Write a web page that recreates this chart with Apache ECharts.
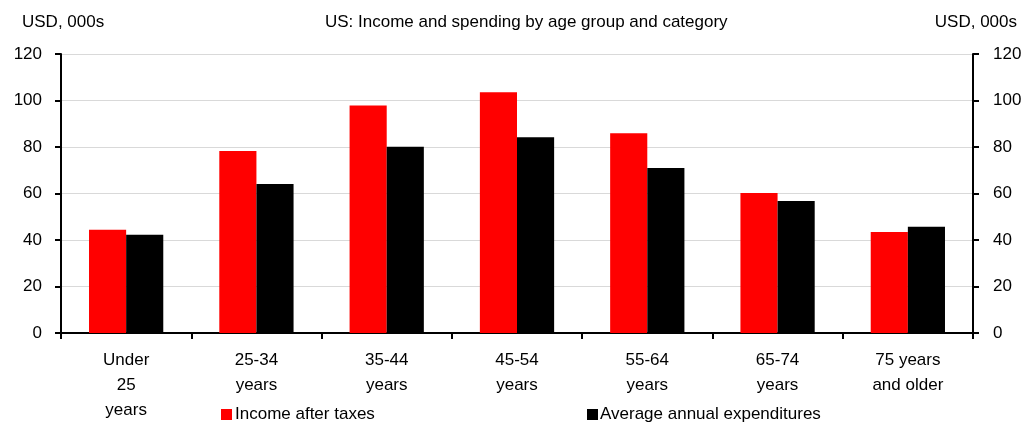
<!DOCTYPE html>
<html><head><meta charset="utf-8">
<script src="https://cdn.jsdelivr.net/npm/echarts@6/dist/echarts.min.js"></script>
<style>html,body{margin:0;padding:0;background:#fff}#c{width:1036px;height:425px}</style>
</head><body><div id="c"></div>
<script>
const categories = ['Under\n25\nyears', '25-34\nyears', '35-44\nyears', '45-54\nyears', '55-64\nyears', '65-74\nyears', '75 years\nand older'];
const incomeAfterTaxes = [44.4, 78.3, 97.8, 103.5, 85.9, 60.2, 43.4];
const avgExpenditures = [42.3, 64.1, 80.1, 84.2, 71.0, 56.8, 45.7];
const yTicks = { min: 0, max: 120, interval: 20 };

const font = 'Liberation Sans, Arial, sans-serif';
const chart = echarts.init(document.getElementById('c'));
const yAxisBase = {
  type: 'value', min: yTicks.min, max: yTicks.max, interval: yTicks.interval,
  axisLine: { show: true, lineStyle: { color: '#000', width: 2 } },
  axisTick: { show: true, length: 6, lineStyle: { color: '#000', width: 2 } },
  axisLabel: { fontFamily: font, fontSize: 17, color: '#000', margin: 19 },
};
const titleStyle = { fontFamily: font, fontSize: 17, fontWeight: 'normal', color: '#000' };
chart.setOption({
  animation: false,
  textStyle: { fontFamily: font },
  title: [
    { text: 'US: Income and spending by age group and category', left: 325, top: 14, padding: 0, textStyle: titleStyle },
    { text: 'USD, 000s', left: 22, top: 14, padding: 0, textStyle: titleStyle },
    { text: 'USD, 000s', right: 19, top: 14, padding: 0, textStyle: titleStyle }
  ],
  legend: [
    { data: ['Income after taxes'], left: 221, top: 406, padding: 0, itemWidth: 11, itemHeight: 11,
      icon: 'rect', textStyle: { fontFamily: font, fontSize: 17, color: '#000', padding: [0,0,0,-2] } },
    { data: ['Average annual expenditures'], left: 587, top: 406, padding: 0, itemWidth: 11, itemHeight: 11,
      icon: 'rect', textStyle: { fontFamily: font, fontSize: 17, color: '#000', padding: [0,0,0,-3] } }
  ],
  grid: { left: 61, right: 63, top: 54, bottom: 92, containLabel: false },
  xAxis: {
    type: 'category', data: categories,
    axisLine: { lineStyle: { color: '#000', width: 2 } },
    axisTick: { show: true, length: 6, alignWithLabel: false, lineStyle: { color: '#000', width: 2 } },
    axisLabel: { fontFamily: font, fontSize: 17, color: '#000', margin: 15, lineHeight: 25, interval: 0 }
  },
  yAxis: [
    Object.assign({}, yAxisBase, { position: 'left',
      splitLine: { show: true, lineStyle: { color: '#d9d9d9', width: 1 } } }),
    Object.assign({}, yAxisBase, { position: 'right', splitLine: { show: false },
      axisLabel: Object.assign({}, yAxisBase.axisLabel, { margin: 20 }) })
  ],
  series: [
    { name: 'Income after taxes', type: 'bar', data: incomeAfterTaxes, barGap: '0%', barCategoryGap: '43%',
      itemStyle: { color: '#ff0000' } },
    { name: 'Average annual expenditures', type: 'bar', data: avgExpenditures,
      itemStyle: { color: '#000000' } }
  ]
});
</script></body></html>
